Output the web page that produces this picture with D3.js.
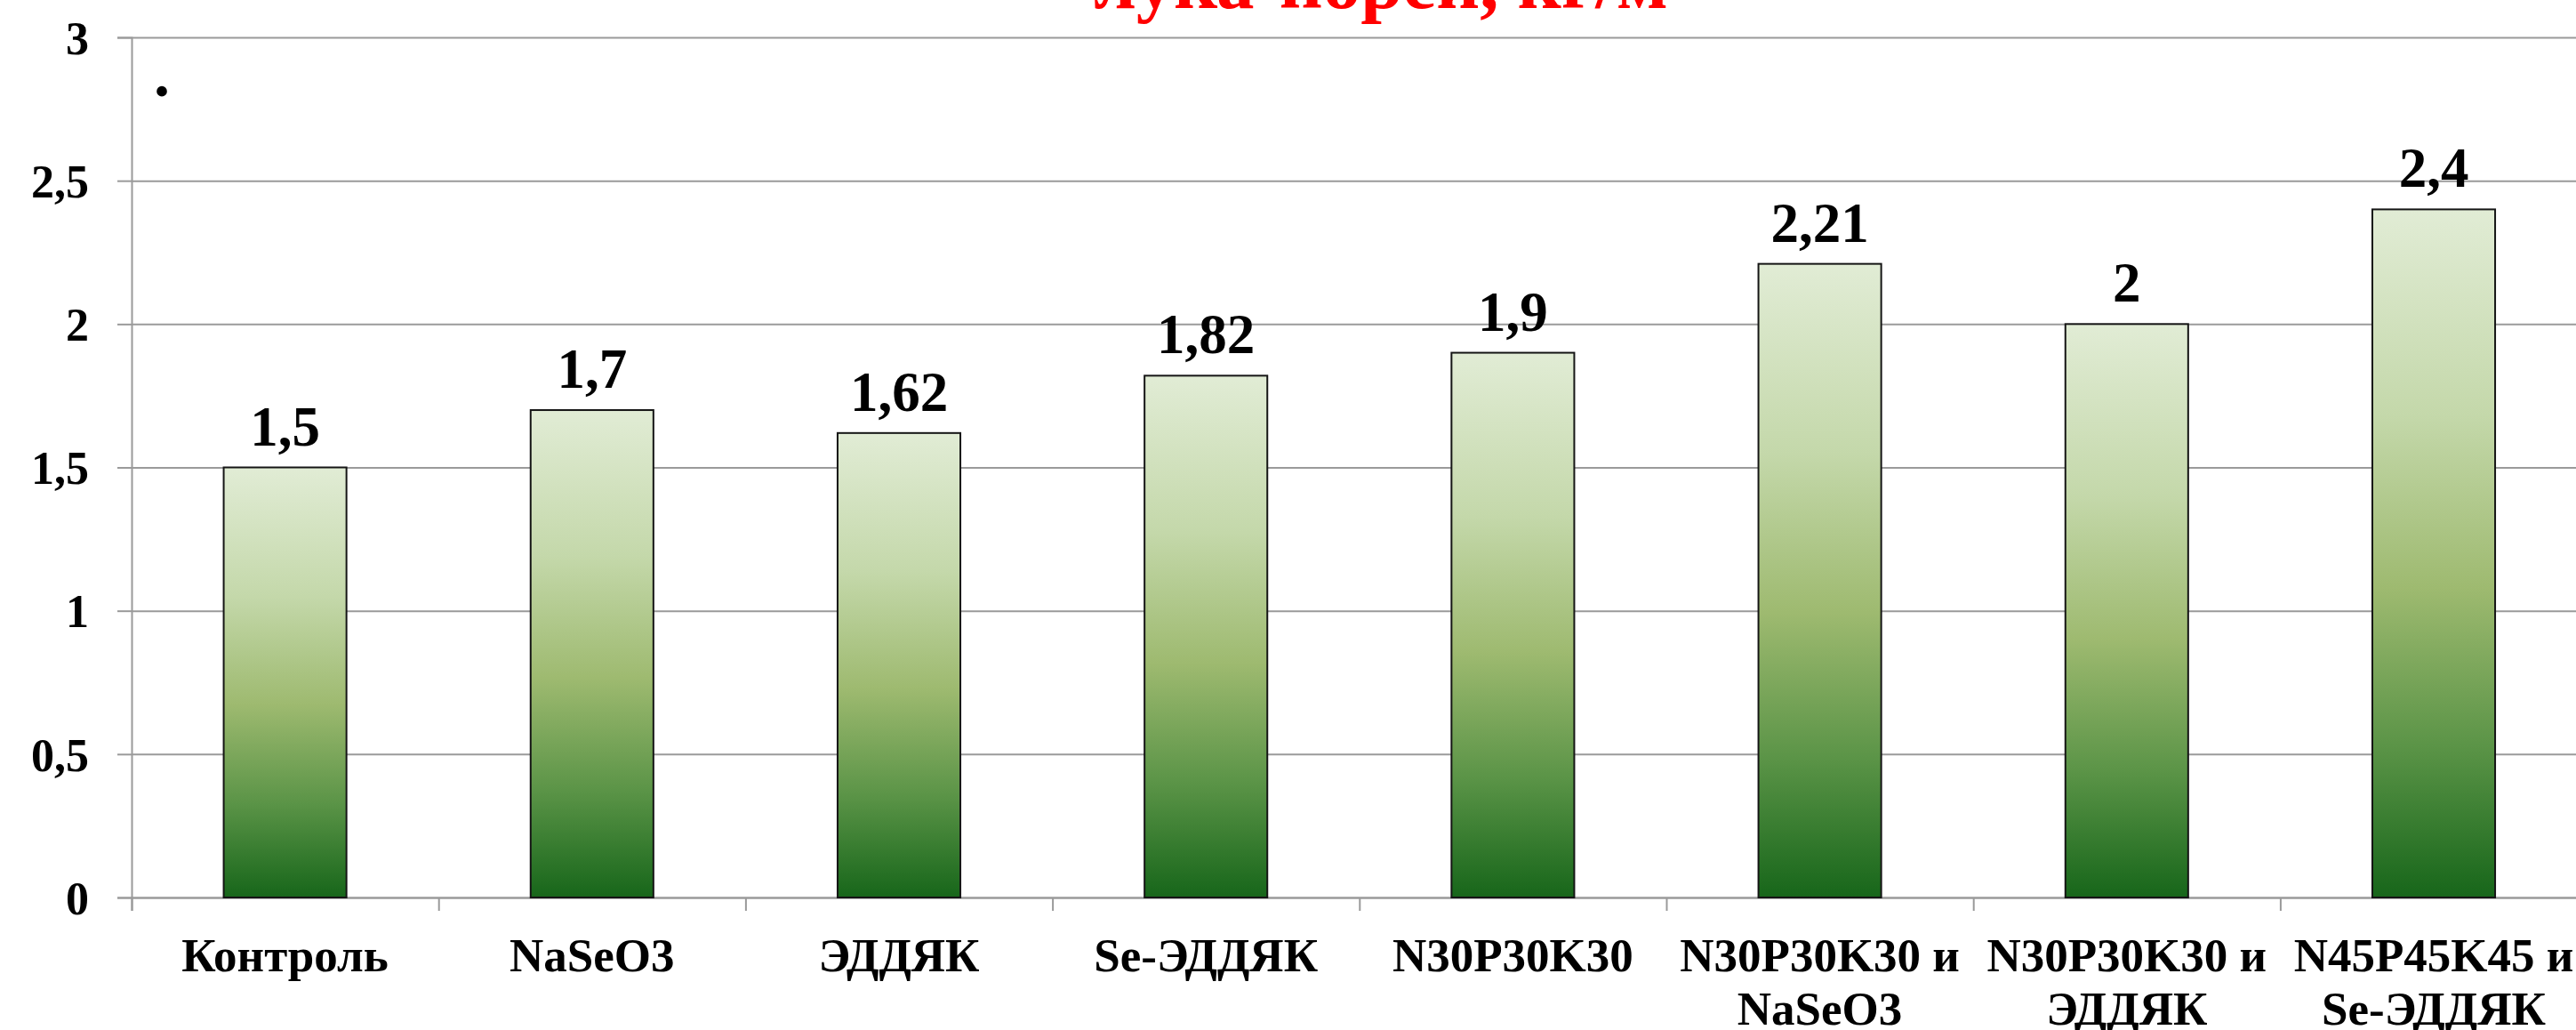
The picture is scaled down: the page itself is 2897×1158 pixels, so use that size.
<!DOCTYPE html>
<html>
<head>
<meta charset="utf-8">
<script src="https://cdn.jsdelivr.net/npm/d3@7"></script>
<style>
  html, body { margin: 0; padding: 0; background: #fff; overflow: hidden; }
  svg { display: block; }
  text { font-family: "Liberation Serif", "Times New Roman", serif; font-weight: bold; }
</style>
</head>
<body>
<script>
// Leek yield by treatment
const titleText = "лука-порей, кг/м";
const categories = [
  "Контроль",
  "NaSeO3",
  "ЭДДЯК",
  "Se-ЭДДЯК",
  "N30P30K30",
  "N30P30K30 и\nNaSeO3",
  "N30P30K30 и\nЭДДЯК",
  "N45P45K45 и\nSe-ЭДДЯК"
];
const yields = [1.5, 1.7, 1.62, 1.82, 1.9, 2.21, 2, 2.4];
const yTicks = [0, 0.5, 1, 1.5, 2, 2.5, 3];

const W = 2897, H = 1158;
const plotLeft = 148, plotTop = 42, plotBottom = 1009;
const step = 345.2;
const comma = v => String(v).replace(".", ",");

const svg = d3.select("body").append("svg").attr("width", W).attr("height", H);

const y = d3.scaleLinear().domain([0, 3]).range([plotBottom, plotTop]);
const x = d3.scaleBand().domain(categories)
  .range([plotLeft, plotLeft + step * categories.length])
  .paddingInner(0.6).paddingOuter(0.3);
const xEdge = d3.scaleLinear().domain([0, categories.length])
  .range([plotLeft, plotLeft + step * categories.length]);

// Bar fill: pale green at the top fading to dark green at the base
const grad = svg.append("defs").append("linearGradient")
  .attr("id", "barFill").attr("x1", 0).attr("y1", 0).attr("x2", 0).attr("y2", 1);
[[0, "#e1ecd5"], [0.3, "#c4d8aa"], [0.55, "#9eba70"], [0.78, "#5b9447"], [1, "#17661a"]]
  .forEach(([o, c]) => grad.append("stop").attr("offset", o).attr("stop-color", c));

// Horizontal gridlines
svg.append("g")
  .attr("transform", `translate(${plotLeft},0)`)
  .call(d3.axisLeft(y).tickValues(yTicks).tickSize(-(W - plotLeft + 20)).tickFormat(""))
  .call(g => g.select(".domain").remove())
  .call(g => g.selectAll("line").attr("stroke", "#9a9a9a").attr("stroke-width", 2));

// Y axis with labels
svg.append("g")
  .attr("transform", `translate(${plotLeft},0)`)
  .call(d3.axisLeft(y).tickValues(yTicks).tickSize(16).tickPadding(32).tickFormat(comma))
  .call(g => g.select(".domain").attr("stroke", "#9a9a9a").attr("stroke-width", 2))
  .call(g => g.selectAll("line").attr("stroke", "#9a9a9a").attr("stroke-width", 2))
  .call(g => g.selectAll("text")
    .attr("font-size", 52).attr("fill", "#000")
    .attr("font-family", "'Liberation Serif', 'Times New Roman', serif")
    .attr("font-weight", "bold").attr("dy", "0.35em"));

// X axis with category boundary ticks
svg.append("g")
  .attr("transform", `translate(0,${plotBottom})`)
  .call(d3.axisBottom(xEdge).tickValues(d3.range(categories.length + 1)).tickSize(15).tickFormat(""))
  .call(g => g.select(".domain").attr("stroke", "#9a9a9a").attr("stroke-width", 2))
  .call(g => g.selectAll("line").attr("stroke", "#9a9a9a").attr("stroke-width", 2));

// Bars
svg.append("g").selectAll("rect")
  .data(yields)
  .join("rect")
  .attr("x", (d, i) => x(categories[i]))
  .attr("y", d => y(d))
  .attr("width", x.bandwidth())
  .attr("height", d => y(0) - y(d))
  .attr("fill", "url(#barFill)")
  .attr("stroke", "#151515")
  .attr("stroke-width", 2);

// Value labels
svg.append("g").selectAll("text")
  .data(yields)
  .join("text")
  .attr("x", (d, i) => x(categories[i]) + x.bandwidth() / 2)
  .attr("y", d => y(d) - 25)
  .attr("text-anchor", "middle")
  .attr("font-size", 63)
  .attr("fill", "#000")
  .text(comma);

// Category labels
const xl = svg.append("g").selectAll("text")
  .data(categories)
  .join("text")
  .attr("x", d => x(d) + x.bandwidth() / 2)
  .attr("y", 1092)
  .attr("text-anchor", "middle")
  .attr("font-size", 53)
  .attr("fill", "#000");
xl.each(function (d) {
  const t = d3.select(this);
  d.split("\n").forEach((line, j) => {
    t.append("tspan")
      .attr("x", t.attr("x"))
      .attr("dy", j === 0 ? 0 : 60)
      .text(line);
  });
});

// Title (red, running off the top edge)
svg.append("text")
  .attr("x", 1553)
  .attr("y", 9)
  .attr("text-anchor", "middle")
  .attr("font-size", 85)
  .attr("fill", "#ff0000")
  .text(titleText);

// Stray dot in the upper-left corner of the plot
svg.append("text")
  .attr("x", plotLeft + 34)
  .attr("y", 108)
  .attr("text-anchor", "middle")
  .attr("font-size", 72)
  .attr("fill", "#000")
  .text(".");
</script>
</body>
</html>
